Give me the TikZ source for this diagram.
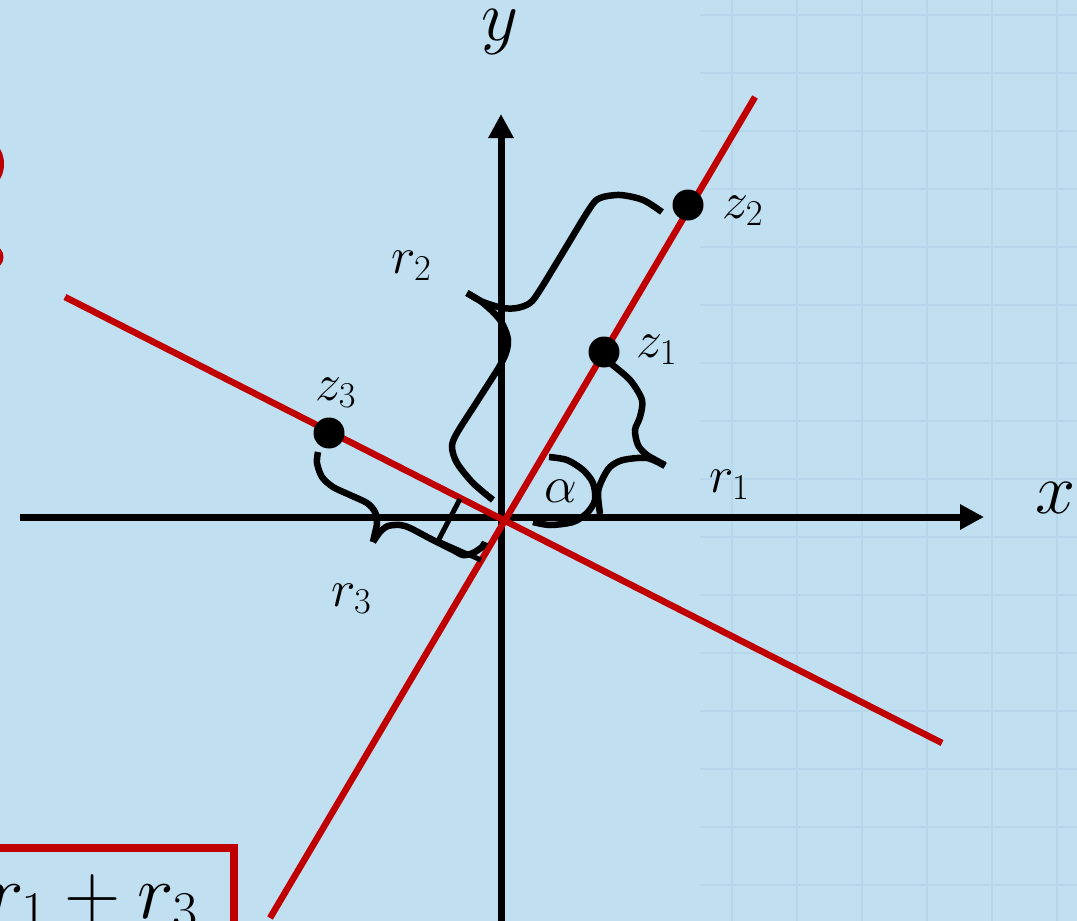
\RequirePackage{fix-cm}
\documentclass[tikz,border=0pt]{standalone}
\usetikzlibrary{arrows.meta,positioning}
\definecolor{bgblue}{HTML}{C0DFF1}
\definecolor{gridc}{HTML}{B5D6EB}
\definecolor{red}{HTML}{C00000}
\newcommand{\lblfont}{\fontsize{52}{60}\selectfont}
\newcommand{\axfont}{\fontsize{72}{80}\selectfont}

\begin{document}
\begin{tikzpicture}[x=1pt,y=-1pt,
  axis/.style={line width=7pt,-{Triangle[length=24pt,width=24pt]}},
  ray/.style={red,line width=6.5pt},
  brace/.style={line width=6.5pt},
  dot/.style={circle,fill,inner sep=0pt,minimum size=31pt},
  lab/.style={inner sep=0pt,anchor=base west,font=\lblfont}]
\clip (0,0) rectangle (1077,921);
\fill[bgblue] (0,0) rectangle (1077,921);
% faint grid of the slide background
\foreach \x in {732,797,...,1058} \draw[gridc,line width=1.2pt] (\x,0)--(\x,921);
\foreach \y in {15,73,...,900} \draw[gridc,line width=1.2pt] (700,\y)--(1077,\y);
% axes
\coordinate (xl) at (20,517);\coordinate (xr) at (984,517);
\coordinate (yb) at (501,921);\coordinate (yt) at (501,114);
\draw[axis] (xl)--(xr);\draw[axis] (yb)--(yt);
\node[lab,font=\axfont] (xlab) at (1035,513){$x$};
\node[lab,font=\axfont] (ylab) at (481,40){$y$};
% the two lines
\coordinate (a1) at (270,918);\coordinate (a2) at (755,97);
\coordinate (b1) at (65,297);\coordinate (b2) at (942,743);
\draw[ray] (a1)--(a2);\draw[ray] (b1)--(b2);
\draw[line width=5pt] (460,499)--(438,541)--(481,560);
% angle and braces
\draw[brace] plot[smooth] coordinates {(549,457) (567,460) (583,470) (593,483) (595,500) (587,513) (573,522) (550,525) (533,522)};
\draw[brace] plot[smooth] coordinates {(610,363) (630,380) (642,400) (640,417) (635,430) (638,445) (647,455) (665,465)};
\draw[brace] plot[smooth] coordinates {(665,466) (647,458) (623,460) (610,467) (602,480) (598,493) (600,514)};
\draw[brace] plot[smooth] coordinates {(662,212) (643,200) (620,195) (600,198) (590,208) (565,249) (540,290) (530,303) (517,308) (503,308) (483,302) (467,293)};
\draw[brace] plot[smooth] coordinates {(467,293) (483,303) (500,320) (508,340) (503,360) (480,397) (457,433) (452,447) (457,463) (473,483) (493,500)};
\draw[brace] plot[smooth] coordinates {(318,452) (317,463) (322,477) (333,487) (350,495) (367,503) (375,512) (377,523) (375,533) (373,542)};
\draw[brace] plot[smooth] coordinates {(373,542) (380,532) (388,526) (400,525) (410,528) (431,539) (453,550) (463,555) (473,553) (482,547) (485,542)};
% points and labels
\node[dot] (z1) at (604,352){};\node[dot] (z2) at (688,205){};\node[dot] (z3) at (329,433){};
\node[lab] (lz2) at (722,218){$z_2$};
\node[lab] (lz1) at (636,357){$z_1$};
\node[lab] (lz3) at (315,400){$z_3$};
\node[lab] (lr2) at (391,273){$r_2$};
\node[lab] (lr1) at (709,492){$r_1$};
\node[lab] (lr3) at (331,606){$r_3$};
\node[lab] (lal) at (544,502){$\alpha$};
% pieces cut off at the edges
\fill[red] (-8,164) ellipse (12 and 20);\fill[red] (-6,257) ellipse (9.5 and 11);
\draw[red,line width=8pt] (-40,848)--(234,848)--(234,960);
\node[inner sep=0pt,anchor=base east,font=\fontsize{78}{90}\selectfont] (sum) at (198,918){$r_1+r_3$};
\end{tikzpicture}
\end{document}
